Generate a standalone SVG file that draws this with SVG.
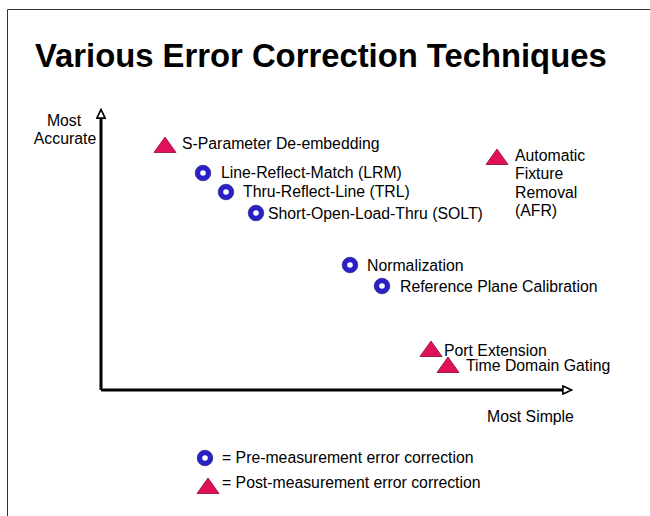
<svg xmlns="http://www.w3.org/2000/svg" width="650" height="516" viewBox="0 0 650 516">
<defs>
<style>
text{font-family:"Liberation Sans",Arial,sans-serif;font-size:15.8px;fill:#000}
.title{font-size:32.8px;font-weight:bold}
.mid{text-anchor:middle}
.ring{fill:#fff;stroke:#2a20c8;stroke-width:5}
.ringo{fill:none;stroke:#141070;stroke-width:0.6}
.tri{fill:#e0105a;stroke:#8a0a30;stroke-width:0.8}
.axis{stroke:#000;stroke-width:3;fill:none}
</style>
<marker id="arr" viewBox="0 0 10 10" refX="2" refY="5" markerWidth="3.6" markerHeight="3.6" orient="auto" markerUnits="strokeWidth">
<path d="M1,1.2 L9,5 L1,8.8 Z" fill="#fff" stroke="#000" stroke-width="1.5"/>
</marker>
<g id="c"><circle r="5.3" class="ring"/><circle r="7.8" class="ringo"/></g>
<path id="t" d="M0,-8 L11,7.5 L-11,7.5 Z" class="tri"/>
</defs>
<rect x="0" y="0" width="650" height="516" fill="#fff"/>
<path d="M7.5,520 L7.5,9.5 L660,9.5" fill="none" stroke="#333" stroke-width="1"/>
<text class="title" x="35" y="67">Various Error Correction Techniques</text>
<g id="connectors">
<path class="axis" d="M101,390 L101,117" marker-end="url(#arr)"/>
<path class="axis" d="M101,390 L564,390" marker-end="url(#arr)"/>
</g>
<g id="axis-labels">
<text class="mid" x="64" y="126">Most</text>
<text class="mid" x="65" y="144">Accurate</text>
<text x="487" y="422">Most Simple</text>
</g>
<g id="sparam"><use href="#t" x="165" y="145"/><text x="182" y="149">S-Parameter De-embedding</text></g>
<g id="lrm"><use href="#c" x="203" y="173"/><text x="221" y="178">Line-Reflect-Match (LRM)</text></g>
<g id="trl"><use href="#c" x="226" y="192"/><text x="243" y="197">Thru-Reflect-Line (TRL)</text></g>
<g id="solt"><use href="#c" x="256" y="213"/><text x="268" y="219">Short-Open-Load-Thru (SOLT)</text></g>
<g id="afr"><use href="#t" x="497" y="157"/>
<text x="515" y="161">Automatic</text><text x="515" y="179">Fixture</text><text x="515" y="198">Removal</text><text x="515" y="216">(AFR)</text></g>
<g id="norm"><use href="#c" x="350" y="265"/><text x="367" y="271">Normalization</text></g>
<g id="refplane"><use href="#c" x="382" y="286"/><text x="400" y="292">Reference Plane Calibration</text></g>
<g id="portext"><use href="#t" x="431" y="349"/><text x="444" y="356">Port Extension</text></g>
<g id="tdg"><use href="#t" x="448" y="365"/><text x="466" y="371">Time Domain Gating</text></g>
<g id="legend">
<use href="#c" x="205" y="458"/><text x="222" y="463">= Pre-measurement error correction</text>
<use href="#t" x="208" y="486"/><text x="222" y="488">= Post-measurement error correction</text>
</g>
</svg>
